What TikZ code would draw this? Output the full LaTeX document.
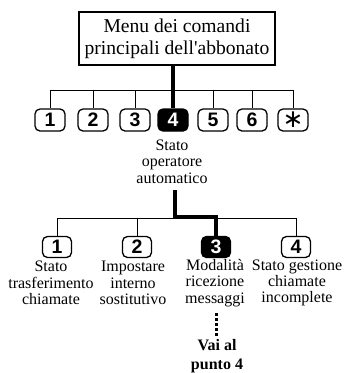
\documentclass[tikz,border=0pt]{standalone}
\usepackage{fontspec}
\setmainfont{Liberation Serif}
\newfontfamily\tastofont{Liberation Sans}
\newfontfamily\simbfont{DejaVu Sans}

\begin{document}
\begin{tikzpicture}[x=1pt,y=-1pt,
    tasto/.style={draw,line width=1.3pt,rounded corners=5pt,fill=white,minimum width=30pt,minimum height=22pt,inner sep=0pt,font=\tastofont\bfseries\fontsize{19.5}{19.5}\selectfont},
    tastoon/.style={tasto,fill=black,text=white},
    testo/.style={align=center,inner sep=0pt,font=\fontsize{16}{16.3}\selectfont},
    filo/.style={line width=0.9pt},
    grosso/.style={line width=4pt}]
    \useasboundingbox (0,0) rectangle (346,373);

    \node[draw,line width=1.3pt,minimum width=196pt,minimum height=53pt,inner sep=0pt,align=center,font=\fontsize{19.6}{22}\selectfont] (menu) at (177,38.5) {Menu dei comandi\\principali dell\textquotesingle abbonato};

    % primo livello
    \coordinate (bus1) at (0,90);
    \foreach \n/\x in {1/50,2/93,3/135,5/213,6/252} \node[tasto] (a\n) at (\x,120) {\n};
    \node[tastoon] (a4) at (173,120) {4};
    \node[tasto,font=\simbfont\fontsize{25}{25}\selectfont] (as) at (293,120) {∗};
    \draw[filo] (a1.north |- bus1) -- (as.north |- bus1);
    \foreach \n in {1,2,3,5,6,s} \draw[filo] (a\n.north |- bus1) -- (a\n.north);
    \draw[grosso] (menu.south -| a4) -- (a4.north);
    \node[testo] (d4) at (172,161.5) {Stato\\operatore\\automatico};

    % secondo livello
    \coordinate (bus2) at (0,218);
    \foreach \n/\x in {1/57,2/137,4/296} \node[tasto,minimum width=29pt,minimum height=21pt] (b\n) at (\x,247) {\n};
    \node[tastoon,minimum width=29pt,minimum height=21pt] (b3) at (216,247) {3};
    \draw[filo] (b1.north |- bus2) -- (b4.north |- bus2);
    \foreach \n in {1,2,4} \draw[filo] (b\n.north |- bus2) -- (b\n.north);
    \draw[grosso,line join=miter] ([xshift=3pt,yshift=-7pt]d4.south) -- ([xshift=3pt,yshift=1pt]d4.south |- bus2) -| (b3.north);

    \node[testo] (e1) at (51,283) {Stato\\trasferimento\\chiamate};
    \node[testo] (e2) at (133,283) {Impostare\\interno\\sostitutivo};
    \node[testo] (e3) at (215,283) {Modalità\\ricezione\\messaggi};
    \node[testo] (e4) at (297,283) {Stato gestione\\chiamate\\incomplete};

    \node[testo,font=\bfseries\fontsize{16}{19}\selectfont] (vai) at (217,356.5) {Vai al\\punto 4};
    \draw[line width=3pt,dash pattern=on 3pt off 2pt] ([yshift=-6pt]e3.south -| b3) -- ([yshift=3pt]vai.north -| b3);
\end{tikzpicture}
\end{document}
